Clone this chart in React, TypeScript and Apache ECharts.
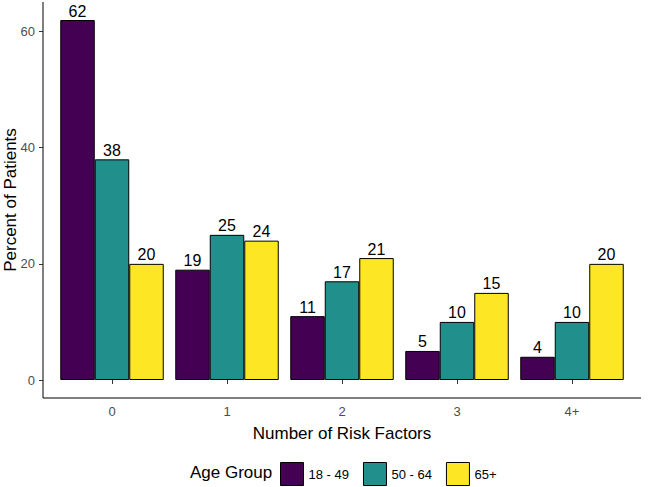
import React, { useEffect, useRef } from "react";
import * as echarts from "echarts";

const categories = ["0", "1", "2", "3", "4+"];
const groups = ["18 - 49", "50 - 64", "65+"];
const values18 = [62, 19, 11, 5, 4];
const values50 = [38, 25, 17, 10, 10];
const values65 = [20, 24, 21, 15, 20];
const colors = ["#440154", "#21908C", "#FDE725"];
const yTicks = [0, 20, 40, 60];

export default function App() {
  const ref = useRef<HTMLDivElement>(null);
  useEffect(() => {
    const chart = echarts.init(ref.current!, null, { renderer: "svg" });
    const font = "Liberation Sans, Arial, sans-serif";
    const seriesData = [values18, values50, values65];
    chart.setOption({
      animation: false,
      grid: { left: 54.5, right: 18.5, top: 2, bottom: 107, outerBoundsMode: "none" },
      xAxis: {
        type: "category",
        data: categories,
        offset: 18,
        axisLine: { show: false },
        axisTick: { show: true, alignWithLabel: true, length: 4, lineStyle: { color: "#333" } },
        axisLabel: { color: "#4d4d4d", fontSize: 13, fontFamily: font, margin: 7 },
        name: "Number of Risk Factors",
        nameLocation: "middle",
        nameGap: 27,
        nameMoveOverlap: false,
        nameTextStyle: { color: "#000", fontSize: 17, fontFamily: font },
      },
      yAxis: {
        type: "value",
        min: 0,
        max: 65.1,
        interval: 20,
        offset: 11.5,
        axisLine: { show: false },
        axisTick: { show: true, length: 4, customValues: yTicks, lineStyle: { color: "#333" } },
        splitLine: { show: false },
        axisLabel: {
          color: "#4d4d4d",
          fontSize: 13,
          fontFamily: font,
          margin: 8,
          customValues: yTicks,
          formatter: (v: number) => (yTicks.includes(v) ? String(v) : ""),
        },
      },
      legend: {
        left: 275,
        top: 457,
        itemWidth: 23,
        itemHeight: 23,
        itemGap: 14,
        itemStyle: { borderColor: "#000", borderWidth: 1 },
        icon: "rect",
        textStyle: { color: "#000", fontSize: 13, fontFamily: font },
        data: groups,
      },
      graphic: [
        {
          type: "line",
          shape: { x1: 43, y1: 2, x2: 43, y2: 398 },
          style: { stroke: "#000", lineWidth: 1 },
        },
        {
          type: "line",
          shape: { x1: 43, y1: 398, x2: 641, y2: 398 },
          style: { stroke: "#000", lineWidth: 1 },
        },
        {
          type: "text",
          x: 10,
          y: 200,
          rotation: Math.PI / 2,
          style: {
            text: "Percent of Patients",
            fill: "#000",
            fontSize: 17,
            fontFamily: font,
            align: "center",
            verticalAlign: "middle",
          },
        },
        {
          type: "text",
          left: 190,
          top: 464,
          style: { text: "Age Group", fill: "#000", fontSize: 17, fontFamily: font },
        },
      ],
      series: groups.map((g, i) => ({
        name: g,
        type: "bar",
        data: seriesData[i],
        barGap: "0%",
        barCategoryGap: "10%",
        itemStyle: { color: colors[i], borderColor: "#000", borderWidth: 1 },
        label: {
          show: true,
          position: "top",
          distance: 1,
          color: "#000",
          fontSize: 16,
          fontFamily: font,
        },
      })),
    });
    return () => chart.dispose();
  }, []);
  return (
    <div
      ref={ref}
      style={{ width: 648, height: 487, position: "absolute", left: 0, top: 0 }}
    />
  );
}
